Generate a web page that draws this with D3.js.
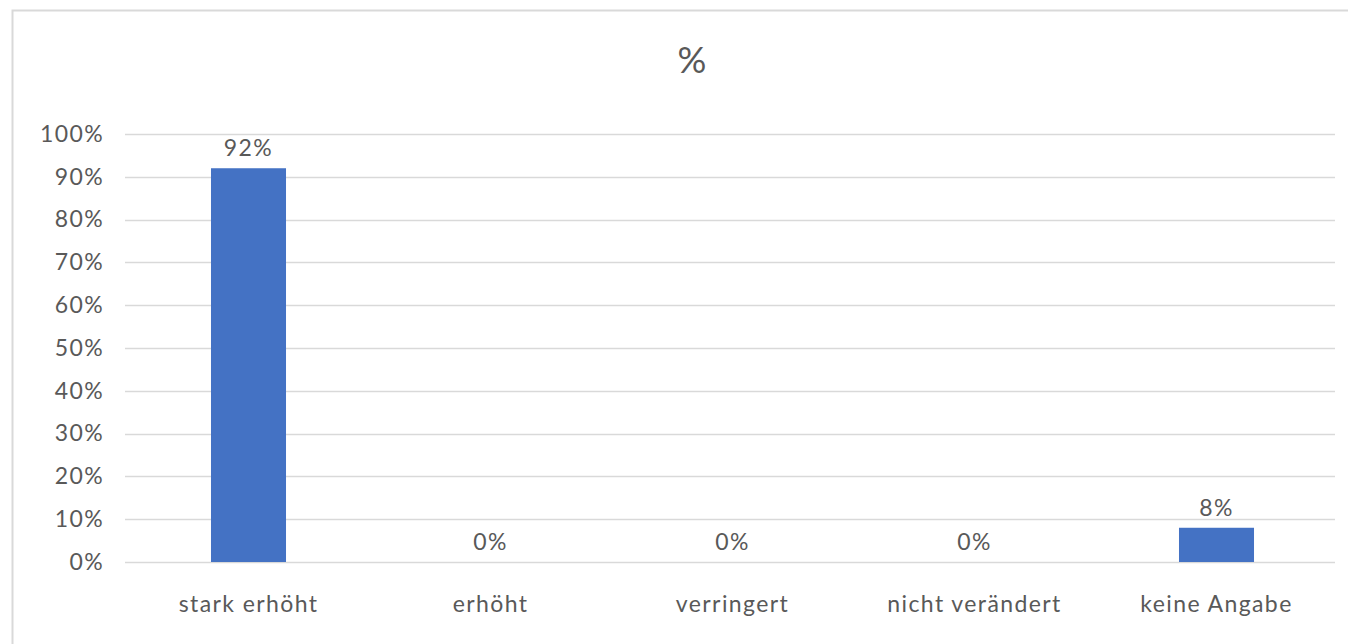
<!DOCTYPE html>
<html><head><meta charset="utf-8">
<script src="https://cdn.jsdelivr.net/npm/d3@7"></script>
<style>body{margin:0;background:#fff;}svg{display:block;font-family:Lato,"Open Sans",sans-serif;}</style>
</head><body>
<svg id="c" width="1348" height="644"></svg>
<script>
const categories = ["stark erhöht","erhöht","verringert","nicht verändert","keine Angabe"];
const values = [0.92, 0, 0, 0, 0.08];
const valueLabels = ["92%","0%","0%","0%","8%"];
const yTicks = [0,0.1,0.2,0.3,0.4,0.5,0.6,0.7,0.8,0.9,1.0];
const title = "%";

(function(){
const svg = d3.select("#c");
const pLeft = 125, pRight = 1335, pTop = 134, pBottom = 562;
const fs = "23px", ls = "1.4px", col = "#595959";
svg.append("rect").attr("x",12.5).attr("y",10.5).attr("width",1360).attr("height",660)
  .attr("fill","#fff").attr("stroke","#d9d9d9").attr("stroke-width",2);

const x = d3.scaleBand().domain(categories).range([pLeft+2.5,pRight+2.5]).paddingInner(0.69).paddingOuter(0.345);
const y = d3.scaleLinear().domain([0,1]).range([pBottom,pTop]);

svg.append("g").selectAll("line").data(yTicks).join("line")
  .attr("x1",pLeft).attr("x2",pRight)
  .attr("y1",d=>Math.round(y(d))+0.5).attr("y2",d=>Math.round(y(d))+0.5)
  .attr("stroke","#d9d9d9").attr("stroke-width",1.5);

const yAxis = d3.axisLeft(y).tickValues(yTicks).tickFormat(d3.format(".0%")).tickSize(0).tickPadding(0);
const gy = svg.append("g").attr("transform",`translate(${104},0)`).call(yAxis);
gy.select(".domain").remove();
gy.selectAll("text").attr("fill",col).style("font-size",fs).style("letter-spacing",ls).style("font-family","Lato,sans-serif");

svg.append("g").selectAll("rect").data(values).join("rect")
  .attr("x",(d,i)=>x(categories[i])).attr("width",x.bandwidth())
  .attr("y",d=>y(d)).attr("height",d=>y(0)-y(d)).attr("fill","#4472c4");

svg.append("g").selectAll("text").data(values).join("text")
  .attr("x",(d,i)=>x(categories[i])+x.bandwidth()/2)
  .attr("y",d=>y(d)-12)
  .attr("text-anchor","middle").attr("fill",col).style("font-size",fs).style("letter-spacing",ls)
  .text((d,i)=>valueLabels[i]);

const xAxis = d3.axisBottom(x).tickSize(0).tickPadding(0);
const gx = svg.append("g").attr("transform",`translate(0,${612})`).call(xAxis);
gx.select(".domain").remove();
gx.selectAll("text").attr("fill",col).attr("dy","0").style("font-size",fs).style("letter-spacing",ls).style("font-family","Lato,sans-serif");

svg.append("text").attr("x",692).attr("y",73).attr("text-anchor","middle")
  .attr("fill",col).style("font-size","36px").text(title);
})();
</script>
</body></html>
